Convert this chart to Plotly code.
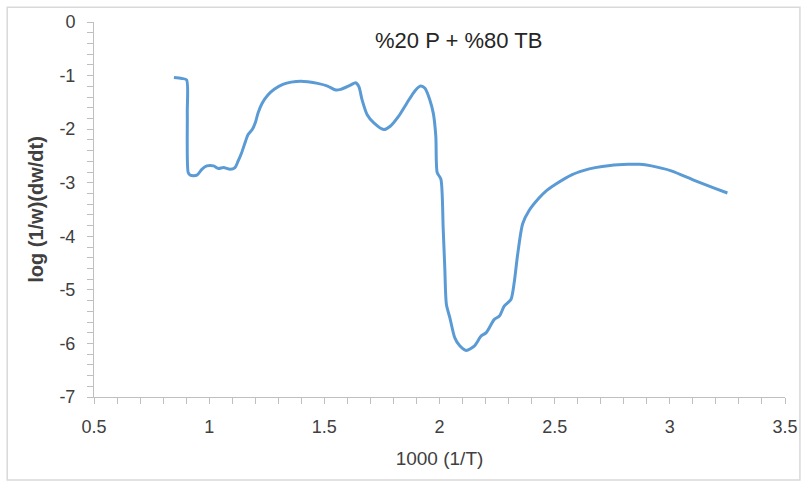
import plotly.graph_objects as go

# 1000/T values and the corresponding log rate, %20 P + %80 TB blend
inv_temp = [
    0.847, 0.881, 0.902, 0.905, 0.909, 0.918, 0.947, 0.968, 0.990, 1.019,
    1.040, 1.062, 1.091, 1.112, 1.126, 1.141, 1.158, 1.169, 1.187, 1.201,
    1.212, 1.230, 1.255, 1.284, 1.320, 1.356, 1.399, 1.428, 1.471, 1.514,
    1.550, 1.571, 1.614, 1.636, 1.650, 1.664, 1.686, 1.715, 1.758, 1.786,
    1.822, 1.858, 1.894, 1.918, 1.937, 1.958, 1.973, 1.984, 1.990, 2.006,
    2.016, 2.023, 2.030, 2.045, 2.066, 2.088, 2.116, 2.152, 2.181, 2.203,
    2.238, 2.260, 2.281, 2.310, 2.324, 2.339, 2.361, 2.389, 2.432, 2.461,
    2.504, 2.576, 2.624, 2.676, 2.741, 2.819, 2.869, 2.920, 3.006, 3.106,
    3.193, 3.250,
]
log_rate = [
    -1.035, -1.054, -1.080, -1.700, -2.810, -2.860, -2.860, -2.749, -2.686, -2.686,
    -2.736, -2.717, -2.749, -2.717, -2.593, -2.440, -2.224, -2.102, -2.008, -1.872,
    -1.701, -1.516, -1.362, -1.251, -1.165, -1.122, -1.104, -1.115, -1.146, -1.196,
    -1.270, -1.257, -1.177, -1.133, -1.207, -1.455, -1.732, -1.885, -2.009, -1.946,
    -1.762, -1.516, -1.281, -1.196, -1.238, -1.455, -1.701, -2.131, -2.810, -2.933,
    -3.858, -4.597, -5.274, -5.521, -5.891, -6.044, -6.130, -6.044, -5.860, -5.799,
    -5.551, -5.490, -5.305, -5.181, -4.874, -4.349, -3.765, -3.518, -3.285, -3.160,
    -3.030, -2.850, -2.775, -2.718, -2.677, -2.656, -2.655, -2.686, -2.778, -2.955,
    -3.100, -3.192,
]

x_ticks = [0.5, 1, 1.5, 2, 2.5, 3, 3.5]
x_tick_labels = ["0.5", "1", "1.5", "2", "2.5", "3", "3.5"]
y_ticks = [0, -1, -2, -3, -4, -5, -6, -7]
y_tick_labels = ["0", "-1", "-2", "-3", "-4", "-5", "-6", "-7"]

chart_title = "%20 P + %80 TB"
x_title = "1000 (1/T)"
y_title = "log (1/w)(dw/dt)"

FONT = "Liberation Sans, Arial, sans-serif"
TEXT = "#404040"
AXIS = "#bfbfbf"

fig = go.Figure()
fig.add_trace(go.Scatter(
    x=inv_temp, y=log_rate, mode="lines",
    line=dict(color="#5b9bd5", width=3, shape="spline", smoothing=0.7),
    showlegend=False, hoverinfo="x+y",
))

fig.update_layout(
    width=810, height=485,
    margin=dict(l=94, r=19, t=18, b=88),
    paper_bgcolor="white", plot_bgcolor="white",
    font=dict(family=FONT, size=18, color=TEXT),
    xaxis=dict(
        range=[0.5, 3.5], tickvals=x_ticks, ticktext=x_tick_labels,
        showgrid=False, zeroline=False,
        showline=True, linecolor=AXIS, linewidth=1,
        ticks="outside", ticklen=6, tickcolor=AXIS,
        minor=dict(dtick=0.1, tick0=0.5, ticks="outside", ticklen=6, tickcolor=AXIS),
        ticklabelstandoff=7,
        tickfont=dict(size=18, color=TEXT),
        title=dict(text=x_title, font=dict(size=19, color=TEXT), standoff=16),
    ),
    yaxis=dict(
        range=[-7, 0], tickvals=y_ticks, ticktext=y_tick_labels,
        showgrid=False, zeroline=False,
        showline=True, linecolor=AXIS, linewidth=1,
        ticks="outside", ticklen=6, tickcolor=AXIS,
        minor=dict(dtick=0.2, tick0=0, ticks="outside", ticklen=6, tickcolor=AXIS),
        ticklabelstandoff=8,
        tickfont=dict(size=18, color=TEXT),
        title=dict(text="<b>" + y_title + "</b>", font=dict(size=20, color=TEXT), standoff=10),
    ),
    annotations=[dict(
        text=chart_title, xref="paper", yref="paper",
        x=0.528, y=0.952, xanchor="center", yanchor="middle",
        showarrow=False, font=dict(size=22, color="#262626", family=FONT),
    )],
    shapes=[dict(
        type="rect", xref="paper", yref="paper",
        x0=-0.1256, x1=1.0216, y0=-0.2216, y1=1.0396,
        line=dict(color="#d9d9d9", width=1.5), layer="below",
    )],
)

fig.write_html("out.html")
